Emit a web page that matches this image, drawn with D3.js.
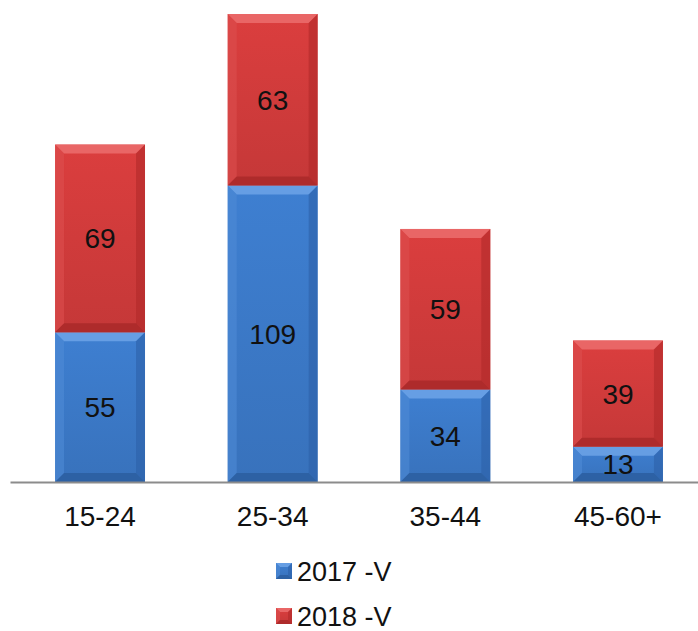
<!DOCTYPE html>
<html><head><meta charset="utf-8">
<script src="https://cdn.jsdelivr.net/npm/d3@7"></script>
<style>body{margin:0;background:#fff}svg{display:block}</style>
</head><body>
<svg id="c" width="698" height="631"></svg>
<script>
const categories = ["15-24", "25-34", "35-44", "45-60+"];
const series2017 = [55, 109, 34, 13];
const series2018 = [69, 63, 59, 39];
const seriesNames = ["2017 -V", "2018 -V"];

const svg = d3.select("#c");
const font = "Liberation Sans, Arial, sans-serif";
const x = d3.scaleBand().domain(categories).range([10, 698]).paddingInner(0.479).paddingOuter(0.232).align(0.5625);
const y = d3.scaleLinear().domain([0, 172]).range([482, 14]);

const colors = [
  {main:"#3b78c6", top:"#6aa2e6", left:"#4f8ad6", right:"#2d60a8", bottom:"#2b5c9e"},
  {main:"#d03b3b", top:"#ea6a6a", left:"#dc4f4f", right:"#b02a2a", bottom:"#a82828"}
];

const data = categories.map((c,i)=>({cat:c, vals:[series2017[i], series2018[i]]}));
const stacked = d3.stack().keys([0,1]).value((d,k)=>d.vals[k])(data);

const defs = svg.append("defs");
colors.forEach((c,i)=>{
  const g = defs.append("linearGradient").attr("id","g"+i).attr("x1",0).attr("y1",0).attr("x2",0).attr("y2",1);
  g.append("stop").attr("offset","0%").attr("stop-color", d3.color(c.main).brighter(0.15));
  g.append("stop").attr("offset","100%").attr("stop-color", d3.color(c.main).darker(0.15));
});

function bevelBar(g, x0, y0, w, h, c, gi, bmax){
  const b = Math.min(bmax, h/2);
  const x1 = x0 + w, y1 = y0 + h;
  g.append("rect").attr("x",x0).attr("y",y0).attr("width",w).attr("height",h).attr("fill","url(#g"+gi+")");
  const poly = (pts, fill, op) => g.append("polygon").attr("points", pts.map(p=>p.join(",")).join(" ")).attr("fill", fill).attr("opacity", op);
  poly([[x0,y0],[x1,y0],[x1-b,y0+b],[x0+b,y0+b]], c.top, 0.9);
  poly([[x0,y0],[x0+b,y0+b],[x0+b,y1-b],[x0,y1]], c.left, 0.6);
  poly([[x1,y0],[x1,y1],[x1-b,y1-b],[x1-b,y0+b]], c.right, 0.6);
  poly([[x0,y1],[x0+b,y1-b],[x1-b,y1-b],[x1,y1]], c.bottom, 0.8);
}

stacked.forEach((layer, li)=>{
  const g = svg.append("g");
  layer.forEach(d=>{
    const x0 = x(d.data.cat), w = x.bandwidth();
    const yt = y(d[1]), yb = y(d[0]);
    bevelBar(g, x0, yt, w, yb - yt, colors[li], li, 9);
  });
});
stacked.forEach((layer, li)=>{
  layer.forEach(d=>{
    const x0 = x(d.data.cat), w = x.bandwidth();
    const yt = y(d[1]), yb = y(d[0]);
    svg.append("text").attr("x", x0 + w/2).attr("y", (yt+yb)/2 + 10)
      .attr("text-anchor","middle").attr("font-family",font).attr("font-size",28)
      .attr("fill","#111").text(d[1]-d[0]);
  });
});

// axis
const axis = d3.axisBottom(x).tickSize(0).tickPadding(24);
const ag = svg.append("g").attr("transform","translate(0,482)").call(axis);
ag.select(".domain").attr("stroke","#8c8c8c").attr("stroke-width",2);
ag.selectAll("text").attr("font-family",font).attr("font-size",28).attr("fill","#111").attr("dy","0.71em");

// legend
const lg = svg.append("g");
seriesNames.forEach((n,i)=>{
  const yy = 571 + i*45;
  bevelBar(lg, 276, yy-8, 16, 16, colors[i], i, 4);
  lg.append("text").attr("x",297).attr("y",yy+10).attr("font-family",font).attr("font-size",27).attr("fill","#111").text(n);
});
</script>
</body></html>
